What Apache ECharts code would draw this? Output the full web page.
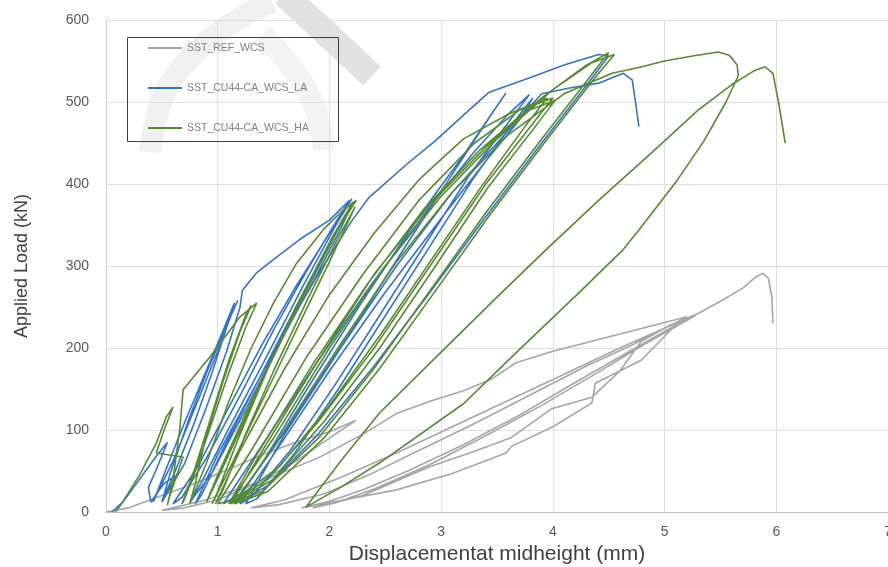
<!DOCTYPE html>
<html>
<head>
<meta charset="utf-8">
<script src="https://cdn.jsdelivr.net/npm/echarts@6/dist/echarts.min.js"></script>
<style>
  html, body { margin: 0; padding: 0; background: #fff; }
  #chart { width: 888px; height: 567px; }
</style>
</head>
<body>
<div id="chart"></div>
<script>
// series names (legend)
var seriesNames = ['SST_REF_WCS', 'SST_CU44-CA_WCS_LA', 'SST_CU44-CA_WCS_HA'];

// SST_REF_WCS : [displacement mm, load kN]
var refData = [
  [0,0],[0.2,5],[0.5,20],[0.8,35],[1.1,52],[1.4,70],[1.7,85],[2.0,98],[2.24,112],
  [2.0,90],[1.7,62],[1.35,35],[1.0,15],[0.7,5],[0.5,2],
  [0.9,15],[1.4,38],[1.9,66],[2.3,95],[2.6,120],[2.9,135],[3.2,148],[3.45,162],[3.67,182],[4.0,196],[4.4,210],[4.8,224],[5.2,238],
  [5.0,224],[4.7,203],[4.3,178],[3.8,143],[3.3,108],[2.8,75],[2.35,45],[1.95,22],[1.55,9],[1.3,5],
  [1.6,15],[2.1,42],[2.6,72],[3.1,104],[3.6,136],[4.1,168],[4.6,200],[5.0,224],[5.25,239],
  [5.05,224],[4.7,197],[4.2,158],[3.7,118],[3.2,82],[2.7,50],[2.3,27],[2.0,13],[1.75,5],
  [2.1,14],[2.6,27],[3.1,47],[3.58,72],[3.63,80],[4.0,104],[4.35,133],[4.38,157],[4.79,185],[5.1,228],[5.28,240],
  [5.1,226],[4.8,203],[4.4,170],[3.9,130],[3.4,93],[2.9,58],[2.4,28],[2.05,11],[1.85,5],
  [2.3,20],[2.89,55],[3.3,74],[3.63,91],[3.99,126],[4.35,140],[4.6,172],[4.79,208],[5.05,228],[5.3,242],[5.5,257],[5.7,273],[5.82,287],[5.88,291],[5.93,285],[5.96,262],[5.97,230]
];

// SST_CU44-CA_WCS_LA
var laData = [
  [0.05,0],[0.15,12],[0.3,40],[0.45,68],[0.55,85],
  [0.46,55],[0.38,30],[0.4,12],
  [0.52,35],[0.63,45],[0.5,12],
  [0.62,50],[0.78,105],[0.95,170],[1.08,225],[1.15,255],
  [1.05,222],[0.86,160],[0.7,108],[0.56,60],[0.46,25],[0.42,12],
  [0.6,62],[0.8,128],[1.0,196],[1.12,240],[1.18,258],
  [1.1,234],[0.9,170],[0.72,105],[0.57,45],[0.5,12],
  [0.7,58],[0.9,128],[1.08,196],[1.2,250],[1.22,270],[1.35,292],[1.53,311],[1.73,332],[2.0,356],[2.18,380],
  [2.05,352],[1.8,295],[1.5,222],[1.2,142],[0.9,66],[0.68,18],[0.6,10],
  [0.82,55],[1.1,128],[1.4,205],[1.7,275],[2.0,340],[2.2,382],
  [2.05,348],[1.75,272],[1.42,185],[1.1,102],[0.85,35],[0.75,12],
  [0.95,48],[1.25,125],[1.55,205],[1.85,280],[2.1,345],[2.21,378],
  [2.03,336],[1.7,250],[1.36,160],[1.06,80],[0.86,22],[0.8,10],
  [1.0,70],[1.3,145],[1.6,220],[1.9,290],[2.2,355],[2.35,383],[2.45,395],[2.7,425],[2.95,453],[3.2,484],[3.43,512],[3.8,530],[4.1,545],[4.41,558],[4.5,556],
  [4.3,520],[3.9,450],[3.4,360],[2.9,268],[2.4,178],[1.9,95],[1.45,32],[1.15,10],
  [1.4,60],[1.8,150],[2.3,258],[2.8,360],[3.2,435],[3.45,485],[3.58,511],
  [3.45,485],[3.1,412],[2.7,328],[2.3,243],[1.9,160],[1.5,78],[1.2,22],[1.05,10],
  [1.4,82],[1.9,185],[2.4,282],[2.9,372],[3.3,440],[3.6,485],[3.79,509],
  [3.6,475],[3.25,410],[2.85,325],[2.45,240],[2.05,155],[1.65,75],[1.3,18],[1.2,10],
  [1.5,70],[2.0,172],[2.5,268],[3.0,358],[3.4,428],[3.7,478],[3.82,505],
  [3.62,470],[3.28,405],[2.88,320],[2.48,235],[2.08,150],[1.68,70],[1.35,16],[1.25,10],
  [1.6,95],[2.1,200],[2.6,300],[3.1,390],[3.6,465],[3.9,510],[4.15,517],[4.41,523],[4.63,535],[4.71,527],[4.74,500],[4.77,470]
];

// SST_CU44-CA_WCS_HA
var haData = [
  [0.08,0],[0.13,8],[0.3,45],[0.45,84],[0.54,116],[0.6,128],
  [0.52,100],[0.45,72],[0.69,67],[0.62,40],[0.56,15],[0.55,8],
  [0.6,40],[0.66,100],[0.69,149],[0.93,189],[1.2,238],[1.35,255],
  [1.25,225],[1.1,170],[0.95,110],[0.8,50],[0.7,15],[0.68,10],
  [0.8,55],[0.95,120],[1.1,185],[1.25,240],[1.3,252],
  [1.2,220],[1.05,160],[0.9,95],[0.8,35],[0.75,10],
  [0.9,60],[1.1,135],[1.3,200],[1.5,255],[1.7,302],[1.95,345],[2.12,368],[2.24,380],
  [2.1,350],[1.85,285],[1.55,205],[1.25,120],[1.0,45],[0.9,12],
  [1.1,70],[1.4,160],[1.7,250],[2.0,325],[2.2,375],
  [2.05,340],[1.75,260],[1.45,175],[1.2,95],[1.0,25],[0.95,10],
  [1.15,65],[1.45,150],[1.75,235],[2.0,305],[2.23,372],
  [2.08,335],[1.8,258],[1.5,172],[1.25,95],[1.05,28],[0.98,10],
  [1.2,75],[1.6,175],[2.0,265],[2.4,340],[2.8,405],[3.2,455],[3.6,485],[3.95,505],
  [3.75,470],[3.35,395],[2.9,305],[2.45,215],[2.0,130],[1.55,55],[1.15,15],[1.0,10],
  [1.3,75],[1.8,190],[2.3,290],[2.8,380],[3.3,450],[3.7,490],[4.0,505],
  [3.8,470],[3.4,400],[2.9,300],[2.4,200],[1.9,110],[1.45,40],[1.1,10],
  [1.35,70],[1.85,180],[2.35,280],[2.85,370],[3.35,442],[3.75,488],[4.02,502],
  [3.82,466],[3.42,396],[2.95,300],[2.45,200],[1.95,110],[1.5,40],[1.12,10],
  [1.4,75],[1.9,185],[2.4,290],[2.9,375],[3.4,445],[3.9,505],[4.3,545],[4.5,560],
  [4.3,525],[3.9,455],[3.4,365],[2.9,270],[2.4,175],[1.9,90],[1.4,25],[1.1,10],
  [1.5,90],[2.0,200],[2.5,300],[3.0,385],[3.5,455],[4.0,515],[4.35,548],[4.55,558],
  [4.35,525],[3.95,455],[3.45,365],[2.95,270],[2.45,175],[1.95,90],[1.45,25],[1.15,10],
  [1.55,90],[2.1,205],[2.6,305],[3.1,390],[3.6,460],[4.1,510],[4.53,535],[4.77,542],[5.0,550],[5.25,556],[5.48,561],[5.58,557],[5.65,545],[5.66,532],
  [5.55,500],[5.35,452],[5.1,402],[4.77,344],[4.63,320],[4.23,267],[3.7,198],[3.2,132],[2.45,60],[2.1,30],[1.79,6],
  [2.1,62],[2.45,121],[3.0,195],[3.5,262],[3.94,320],[4.41,380],[4.9,440],[5.3,490],[5.6,521],[5.8,538],[5.9,543],[5.97,535],[6.02,500],[6.08,450]
];

var colors = ['#a6a6a6', '#3473c6', '#568a30'];

var myChart = echarts.init(document.getElementById('chart'));

var option = {
  animation: false,
  color: colors,
  grid: { left: 106, right: 0, top: 20, bottom: 55, outerBoundsMode: 'none' },
  graphic: [
    // faint "draft" watermark strokes
    {
      type: 'polyline', z: 0, silent: true,
      shape: { points: [[150,152],[164,95],[198,50],[240,18],[272,2]], smooth: 0.4 },
      style: { stroke: '#f0f0f0', lineWidth: 22, fill: null }
    },
    {
      type: 'polyline', z: 0, silent: true,
      shape: { points: [[262,34],[295,72],[316,110],[324,150]], smooth: 0.4 },
      style: { stroke: '#f3f3f3', lineWidth: 22, fill: null }
    },
    {
      type: 'line', z: 0, silent: true,
      shape: { x1: 284, y1: -6, x2: 372, y2: 76 },
      style: { stroke: '#e2e2e2', lineWidth: 26 }
    },
    // legend frame
    {
      type: 'rect', z: 10, silent: true,
      shape: { x: 127.5, y: 37.5, width: 211, height: 104 },
      style: { stroke: '#404040', lineWidth: 1, fill: null }
    }
  ],
  legend: {
    orient: 'vertical',
    left: 148, top: 42, padding: 0,
    itemGap: 28,
    itemWidth: 34, itemHeight: 2,
    icon: 'rect',
    textStyle: { fontFamily: 'Liberation Sans', fontSize: 10.5, color: '#7f7f7f', lineHeight: 12 },
    data: seriesNames
  },
  xAxis: {
    type: 'value', min: 0, max: 7, interval: 1,
    name: 'Displacementat midheight (mm)',
    nameLocation: 'middle', nameGap: 28,
    nameTextStyle: { fontFamily: 'Liberation Sans', fontSize: 21, color: '#404040' },
    axisLine: { show: true, lineStyle: { color: '#bfbfbf', width: 1 } },
    axisTick: { show: false },
    axisLabel: { fontFamily: 'Liberation Sans', fontSize: 14, color: '#595959', margin: 13 },
    splitLine: { show: true, lineStyle: { color: '#dedede', width: 1 } }
  },
  yAxis: {
    type: 'value', min: 0, max: 600, interval: 100,
    name: 'Applied Load (kN)',
    nameLocation: 'middle', nameGap: 75, nameRotate: 90,
    nameTextStyle: { fontFamily: 'Liberation Sans', fontSize: 18, color: '#404040' },
    axisLine: { show: true, lineStyle: { color: '#d0d0d0', width: 1 } },
    axisTick: { show: false },
    axisLabel: { fontFamily: 'Liberation Sans', fontSize: 14, color: '#595959', margin: 17 },
    splitLine: { show: true, lineStyle: { color: '#dedede', width: 1 } }
  },
  series: [
    { name: seriesNames[0], type: 'line', data: refData, symbol: 'none', z: 2, lineStyle: { width: 1.6 } },
    { name: seriesNames[1], type: 'line', data: laData, symbol: 'none', z: 3, lineStyle: { width: 1.6 } },
    { name: seriesNames[2], type: 'line', data: haData, symbol: 'none', z: 4, lineStyle: { width: 1.6 } }
  ]
};

myChart.setOption(option);
window.addEventListener('resize', function () {
  myChart.resize();
});
</script>
</body>
</html>
